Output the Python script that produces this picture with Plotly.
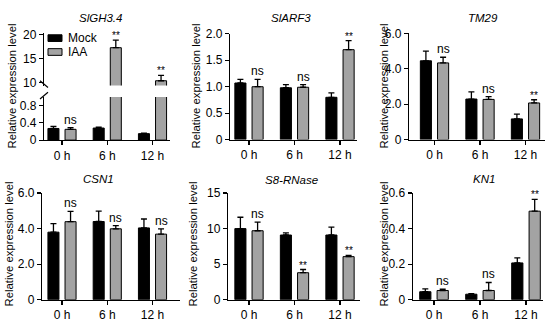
import plotly.graph_objects as go

# ---------------- data ----------------
categories = ["0 h", "6 h", "12 h"]
genes = ["SlGH3.4", "SlARF3", "TM29", "CSN1", "S8-RNase", "KN1"]

mock_vals = {
    "SlGH3.4": [0.27, 0.28, 0.15],
    "SlARF3": [1.07, 0.98, 0.80],
    "TM29": [4.45, 2.29, 1.17],
    "CSN1": [3.80, 4.40, 4.04],
    "S8-RNase": [10.0, 9.10, 9.10],
    "KN1": [0.045, 0.031, 0.207],
}
mock_err = {
    "SlGH3.4": [0.05, 0.02, 0.01],
    "SlARF3": [0.07, 0.06, 0.085],
    "TM29": [0.55, 0.41, 0.27],
    "CSN1": [0.48, 0.58, 0.50],
    "S8-RNase": [1.60, 0.30, 1.10],
    "KN1": [0.016, 0.003, 0.028],
}
iaa_vals = {
    "SlGH3.4": [0.25, 17.3, 10.4],
    "SlARF3": [1.00, 0.99, 1.70],
    "TM29": [4.33, 2.27, 2.07],
    "CSN1": [4.39, 3.99, 3.69],
    "S8-RNase": [9.70, 3.80, 6.06],
    "KN1": [0.052, 0.052, 0.498],
}
iaa_err = {
    "SlGH3.4": [0.04, 1.6, 1.1],
    "SlARF3": [0.14, 0.05, 0.17],
    "TM29": [0.32, 0.16, 0.18],
    "CSN1": [0.58, 0.18, 0.30],
    "S8-RNase": [1.20, 0.45, 0.18],
    "KN1": [0.007, 0.045, 0.066],
}
signif = {
    "SlGH3.4": ["ns", "**", "**"],
    "SlARF3": ["ns", "ns", "**"],
    "TM29": ["ns", "ns", "**"],
    "CSN1": ["ns", "ns", "ns"],
    "S8-RNase": ["ns", "**", "**"],
    "KN1": ["ns", "ns", "**"],
}
ytick_vals = {
    "SlGH3.4": [0, 0.4, 0.8],
    "SlARF3": [0, 0.5, 1.0, 1.5, 2.0],
    "TM29": [0, 2, 4, 6],
    "CSN1": [0, 2, 4, 6],
    "S8-RNase": [0, 5, 10, 15],
    "KN1": [0, 0.2, 0.4, 0.6],
}
ytick_text = {
    "SlGH3.4": ["0", "0.4", "0.8"],
    "SlARF3": ["0", "0.5", "1.0", "1.5", "2.0"],
    "TM29": ["0", "2.0", "4.0", "6.0"],
    "CSN1": ["0", "2.0", "4.0", "6.0"],
    "S8-RNase": ["0", "5", "10", "15"],
    "KN1": ["0", "0.2", "0.4", "0.6"],
}
upper_tick_vals = [10, 15, 20]
upper_tick_text = ["10", "15", "20"]
series_names = ["Mock", "IAA"]
ytitle = "Relative expression level"

# ---------------- layout geometry (pixels) ----------------
W, H = 550, 330
def px(x): return x / W
def py(y): return 1 - y / H

geom = [
    dict(x0=44, x1=170, c0=62, c2=152.5, top=94, bot=139, yr=[0, 1.0], tx=100, ty=11, yx=12, yy=83),
    dict(x0=230, x1=357, c0=249, c2=340, top=28, bot=138.5, yr=[0, 2.0], tx=291, ty=12, yx=196, yy=83),
    dict(x0=409, x1=545, c0=434.5, c2=525.5, top=27.5, bot=138.5, yr=[0, 6.0], tx=483, ty=12, yx=384, yy=83),
    dict(x0=42, x1=180, c0=62, c2=152.5, top=194.3, bot=305.7, yr=[0, 6.0], tx=98, ty=180, yx=9, yy=248),
    dict(x0=228, x1=360, c0=249, c2=340, top=194.3, bot=305.7, yr=[0, 15], tx=291, ty=180.5, yx=193, yy=248),
    dict(x0=412.7, x1=543, c0=434, c2=526, top=194.3, bot=305.7, yr=[0, 0.6], tx=484, ty=180, yx=384, yy=248),
]
upper = dict(top=27, bot=82, yr=[9.4, 20.4])

BARGAP = 0.244
BARGROUPGAP = 0.355
half_off = (1 - BARGAP) / 4

FONT = "Arial, 'Liberation Sans', sans-serif"
GRAY = "#a3a3a3"

fig = go.Figure()
annotations = []
shapes = []

axis_common = dict(
    showline=True, linecolor="black", linewidth=1.2,
    ticks="outside", ticklen=4, tickwidth=1.2, tickcolor="black",
    showgrid=False, zeroline=False, fixedrange=True,
    tickfont=dict(family=FONT, size=12, color="black"),
)

def add_pair(gene, xa, ya):
    fig.add_trace(go.Bar(
        x=categories, y=mock_vals[gene], name=series_names[0],
        marker=dict(color="black", line=dict(color="black", width=1)),
        error_y=dict(type="data", array=mock_err[gene], symmetric=False,
                     arrayminus=[0, 0, 0], color="black", thickness=1.3, width=3),
        xaxis=xa, yaxis=ya, showlegend=False, hoverinfo="skip",
    ))
    fig.add_trace(go.Bar(
        x=categories, y=iaa_vals[gene], name=series_names[1],
        marker=dict(color=GRAY, line=dict(color="black", width=1)),
        error_y=dict(type="data", array=iaa_err[gene], symmetric=False,
                     arrayminus=[0, 0, 0], color="black", thickness=1.3, width=3),
        xaxis=xa, yaxis=ya, showlegend=False, hoverinfo="skip",
    ))

layout_axes = {}
for k, gene in enumerate(genes):
    g = geom[k]
    n = k + 1
    xa = "x" if n == 1 else f"x{n}"
    ya = "y" if n == 1 else f"y{n}"
    add_pair(gene, xa, ya)
    s = (g["c2"] - g["c0"]) / 2
    xr = [-(g["c0"] - g["x0"]) / s, 2 + (g["x1"] - g["c2"]) / s]
    layout_axes["xaxis" if n == 1 else f"xaxis{n}"] = dict(
        axis_common, type="category", domain=[px(g["x0"]), px(g["x1"])],
        range=xr, anchor=ya, categoryorder="array", categoryarray=categories,
    )
    layout_axes["yaxis" if n == 1 else f"yaxis{n}"] = dict(
        axis_common, domain=[py(g["bot"]), py(g["top"])], range=g["yr"],
        anchor=xa, tickvals=ytick_vals[gene], ticktext=ytick_text[gene],
    )
    annotations.append(dict(
        text=f"<i>{gene}</i>", x=px(g["tx"]), y=py(g["ty"]), xref="paper", yref="paper",
        showarrow=False, font=dict(family=FONT, size=11.5, color="black"),
        xanchor="center", yanchor="middle",
    ))
    annotations.append(dict(
        text=ytitle, x=px(g["yx"]), y=py(g["yy"]), xref="paper", yref="paper",
        showarrow=False, textangle=-90, font=dict(family=FONT, size=11.3, color="black"),
        xanchor="center", yanchor="middle",
    ))
    for i, lab in enumerate(signif[gene]):
        top = iaa_vals[gene][i] + iaa_err[gene][i]
        yref = ya
        if n == 1 and top > g["yr"][1]:
            yref = "y7"
        annotations.append(dict(
            text=lab, x=i + half_off, y=top, xref=xa, yref=yref, showarrow=False,
            xanchor="center", yanchor="bottom", yshift=-1 if lab == "ns" else -3,
            font=dict(family=FONT, size=12 if lab == "ns" else 10, color="#000000"),
        ))

# upper (broken) part of panel 1
add_pair(genes[0], "x", "y7")
layout_axes["yaxis7"] = dict(
    axis_common, domain=[py(upper["bot"]), py(upper["top"])], range=upper["yr"],
    anchor="x", tickvals=upper_tick_vals, ticktext=upper_tick_text,
)

# axis break marks
ax0 = geom[0]["x0"]
shapes.append(dict(type="line", xref="paper", yref="paper",
                   x0=px(ax0 - 4), y0=py(77), x1=px(ax0 + 4), y1=py(84),
                   line=dict(color="black", width=1.2)))
shapes.append(dict(type="line", xref="paper", yref="paper",
                   x0=px(ax0 - 4), y0=py(96), x1=px(ax0 + 4), y1=py(89),
                   line=dict(color="black", width=1.2)))

# legend (panel 1)
legend_colors = ["black", GRAY]
legend_rows = [32.5, 47]
for name, col, ly in zip(series_names, legend_colors, legend_rows):
    shapes.append(dict(type="rect", xref="paper", yref="paper",
                       x0=px(48), x1=px(62), y0=py(ly - 3.5), y1=py(ly + 3.5),
                       fillcolor=col, line=dict(color="black", width=1)))
    annotations.append(dict(text=name, x=px(66), y=py(ly), xref="paper", yref="paper",
                            showarrow=False, xanchor="left", yanchor="middle",
                            font=dict(family=FONT, size=12, color="black")))

fig.update_layout(
    width=W, height=H, margin=dict(l=0, r=0, t=0, b=0),
    paper_bgcolor="white", plot_bgcolor="white",
    barmode="group", bargap=BARGAP, bargroupgap=BARGROUPGAP,
    font=dict(family=FONT, size=12, color="black"),
    showlegend=False, hovermode=False,
    annotations=annotations, shapes=shapes,
    **layout_axes,
)

fig.write_html("out.html", config={"displayModeBar": False, "staticPlot": True},
               post_script="document.body.style.margin='0px';")
